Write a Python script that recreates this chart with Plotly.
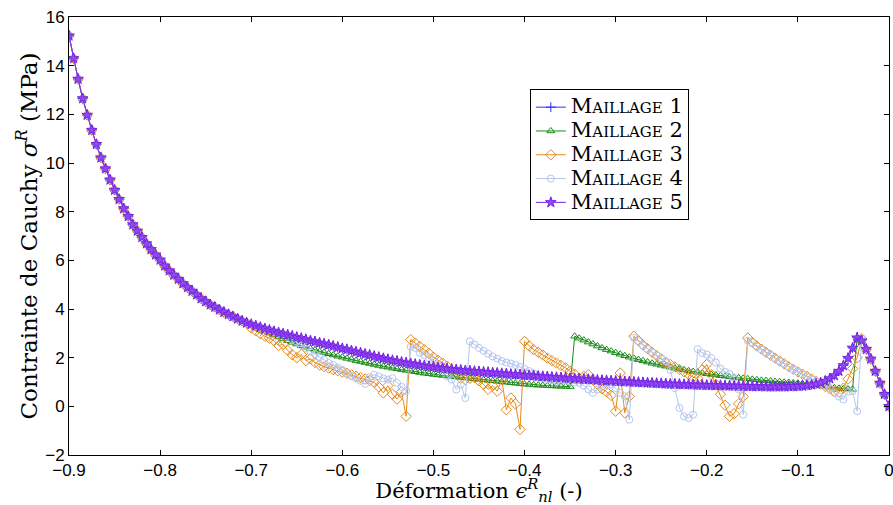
import plotly.graph_objects as go

# Strain values (x): uniform 0.005 steps from -0.9 to 0
DEFORMATION = [
    -0.900, -0.895, -0.890, -0.885, -0.880, -0.875, -0.870, -0.865, -0.860, -0.855,
    -0.850, -0.845, -0.840, -0.835, -0.830, -0.825, -0.820, -0.815, -0.810, -0.805,
    -0.800, -0.795, -0.790, -0.785, -0.780, -0.775, -0.770, -0.765, -0.760, -0.755,
    -0.750, -0.745, -0.740, -0.735, -0.730, -0.725, -0.720, -0.715, -0.710, -0.705,
    -0.700, -0.695, -0.690, -0.685, -0.680, -0.675, -0.670, -0.665, -0.660, -0.655,
    -0.650, -0.645, -0.640, -0.635, -0.630, -0.625, -0.620, -0.615, -0.610, -0.605,
    -0.600, -0.595, -0.590, -0.585, -0.580, -0.575, -0.570, -0.565, -0.560, -0.555,
    -0.550, -0.545, -0.540, -0.535, -0.530, -0.525, -0.520, -0.515, -0.510, -0.505,
    -0.500, -0.495, -0.490, -0.485, -0.480, -0.475, -0.470, -0.465, -0.460, -0.455,
    -0.450, -0.445, -0.440, -0.435, -0.430, -0.425, -0.420, -0.415, -0.410, -0.405,
    -0.400, -0.395, -0.390, -0.385, -0.380, -0.375, -0.370, -0.365, -0.360, -0.355,
    -0.350, -0.345, -0.340, -0.335, -0.330, -0.325, -0.320, -0.315, -0.310, -0.305,
    -0.300, -0.295, -0.290, -0.285, -0.280, -0.275, -0.270, -0.265, -0.260, -0.255,
    -0.250, -0.245, -0.240, -0.235, -0.230, -0.225, -0.220, -0.215, -0.210, -0.205,
    -0.200, -0.195, -0.190, -0.185, -0.180, -0.175, -0.170, -0.165, -0.160, -0.155,
    -0.150, -0.145, -0.140, -0.135, -0.130, -0.125, -0.120, -0.115, -0.110, -0.105,
    -0.100, -0.095, -0.090, -0.085, -0.080, -0.075, -0.070, -0.065, -0.060, -0.055,
    -0.050, -0.045, -0.040, -0.035, -0.030, -0.025, -0.020, -0.015, -0.010, -0.005,
    0.000,
]

# Shared steep branch (x = -0.900 ... -0.705), identical for all meshes
BRANCHE_COMMUNE = [
    15.23, 14.30, 13.45, 12.65, 11.97, 11.35, 10.77, 10.22, 9.77, 9.31,
    8.89, 8.51, 8.13, 7.81, 7.47, 7.21, 6.95, 6.69, 6.45, 6.23,
    6.02, 5.78, 5.58, 5.40, 5.23, 5.05, 4.89, 4.74, 4.59, 4.43,
    4.31, 4.18, 4.08, 3.97, 3.87, 3.78, 3.69, 3.60, 3.51, 3.43,
]

# Maillage 5 (x = -0.700 ... 0)
SUITE_5 = [
    3.37, 3.31, 3.25, 3.19, 3.14, 3.08, 3.03, 2.98, 2.94, 2.89,
    2.84, 2.80, 2.75, 2.70, 2.66, 2.61, 2.57, 2.53, 2.48, 2.43,
    2.38, 2.34, 2.29, 2.24, 2.20, 2.15, 2.11, 2.06, 2.02, 1.97,
    1.93, 1.89, 1.86, 1.82, 1.79, 1.76, 1.73, 1.70, 1.67, 1.64,
    1.62, 1.59, 1.57, 1.55, 1.53, 1.51, 1.49, 1.47, 1.46, 1.44,
    1.43, 1.41, 1.40, 1.38, 1.37, 1.35, 1.34, 1.32, 1.31, 1.30,
    1.28, 1.27, 1.26, 1.24, 1.23, 1.22, 1.20, 1.19, 1.18, 1.17,
    1.15, 1.14, 1.13, 1.12, 1.11, 1.10, 1.08, 1.07, 1.06, 1.05,
    1.04, 1.03, 1.02, 1.01, 1.00, 0.99, 0.98, 0.97, 0.96, 0.95,
    0.94, 0.93, 0.92, 0.92, 0.91, 0.90, 0.90, 0.89, 0.88, 0.88,
    0.87, 0.87, 0.86, 0.86, 0.85, 0.85, 0.84, 0.84, 0.83, 0.83,
    0.82, 0.82, 0.82, 0.81, 0.81, 0.81, 0.81, 0.81, 0.82, 0.82,
    0.83, 0.84, 0.86, 0.89, 0.92, 0.97, 1.04, 1.14, 1.27, 1.45,
    1.68, 1.98, 2.40, 2.82, 2.70, 2.35, 1.95, 1.45, 0.96, 0.50,
    0.00,
]

# Maillage 2 (x = -0.700 ... 0)
SUITE_2 = [
    3.33, 3.25, 3.17, 3.09, 3.01, 2.93, 2.85, 2.77, 2.70, 2.63,
    2.56, 2.49, 2.43, 2.37, 2.31, 2.26, 2.21, 2.16, 2.11, 2.06,
    2.02, 1.97, 1.93, 1.88, 1.84, 1.80, 1.76, 1.72, 1.68, 1.64,
    1.61, 1.57, 1.54, 1.51, 1.48, 1.45, 1.42, 1.39, 1.36, 1.34,
    1.31, 1.29, 1.27, 1.25, 1.23, 1.21, 1.19, 1.17, 1.15, 1.13,
    1.11, 1.09, 1.07, 1.05, 1.03, 1.01, 0.99, 0.97, 0.95, 0.93,
    0.91, 0.90, 0.88, 0.87, 0.86, 0.85, 0.84, 0.83, 0.82, 0.82,
    0.81, 2.88, 2.80, 2.72, 2.64, 2.56, 2.48, 2.40, 2.33, 2.27,
    2.20, 2.14, 2.08, 2.02, 1.97, 1.92, 1.87, 1.82, 1.77, 1.73,
    1.69, 1.65, 1.61, 1.57, 1.53, 1.50, 1.46, 1.43, 1.40, 1.37,
    1.34, 1.31, 1.29, 1.26, 1.24, 1.21, 1.19, 1.17, 1.15, 1.13,
    1.11, 1.09, 1.07, 1.06, 1.04, 1.02, 1.01, 0.99, 0.98, 0.96,
    0.95, 0.93, 0.92, 0.90, 0.88, 0.85, 0.82, 0.79, 0.76, 0.74,
    0.72, 0.71, 0.70, 2.80, 2.68, 2.34, 1.94, 1.44, 0.95, 0.49,
    0.00,
]

# Maillage 3 (x = -0.700 ... 0)
SUITE_3 = [
    3.22, 3.10, 2.98, 2.88, 2.80, 2.70, 2.50, 2.55, 2.30, 2.12,
    2.00, 2.13, 1.88, 1.95, 1.80, 1.70, 1.63, 1.57, 1.51, 1.46,
    1.41, 1.36, 1.30, 1.24, 1.18, 1.12, 1.06, 0.98, 0.80, 0.55,
    0.85, 0.50, 0.30, 0.60, -0.41, 2.74, 2.60, 2.46, 2.33, 2.18,
    2.02, 1.89, 1.78, 1.65, 1.45, 1.30, 1.15, 1.10, 1.15, 1.18,
    1.05, 0.90, 0.70, 0.85, 0.62, 1.10, -0.14, 0.34, 0.10, -0.95,
    2.67, 2.48, 2.33, 2.22, 2.11, 1.98, 1.88, 1.78, 1.68, 1.58,
    1.45, 1.32, 1.16, 1.24, 1.30, 1.10, 0.90, 0.72, 0.60, 0.45,
    -0.20, 1.37, -0.27, 0.41, 2.88, 2.70, 2.52, 2.37, 2.22, 2.08,
    1.95, 1.80, 1.72, 1.62, 1.51, 1.42, 1.32, 1.20, 1.15, 1.50,
    1.72, 1.30, 0.90, 0.50, 0.05, -0.41, -0.30, 0.10, 0.40, 2.81,
    2.63, 2.48, 2.35, 2.22, 2.10, 1.98, 1.86, 1.75, 1.63, 1.52,
    1.42, 1.32, 1.23, 1.12, 1.02, 0.92, 0.82, 0.72, 0.62, 0.58,
    0.75, 1.12, 1.55, 2.00, 2.78, 2.34, 1.94, 1.44, 0.95, 0.49,
    0.00,
]

# Maillage 4 (x = -0.700 ... 0)
SUITE_4 = [
    3.37, 3.31, 3.25, 3.19, 3.14, 3.08, 3.03, 2.98, 2.85, 2.75,
    2.65, 2.50, 2.38, 2.24, 2.14, 2.02, 1.92, 1.78, 1.70, 1.60,
    1.50, 1.36, 1.25, 1.15, 1.05, 0.92, 1.20, 1.30, 1.23, 1.15,
    1.10, 1.16, 0.96, 0.80, 0.62, 2.45, 2.40, 2.20, 2.10, 1.98,
    1.90, 1.70, 1.45, 1.23, 1.10, 0.69, 0.89, 0.34, 2.67, 2.54,
    2.40, 2.28, 2.16, 2.05, 1.96, 1.86, 1.80, 1.76, 1.70, 1.62,
    1.54, 1.45, 1.36, 1.26, 1.16, 1.12, 1.08, 1.03, 1.05, 1.08,
    1.02, 0.98, 0.96, 0.85, 0.70, 0.55, 0.69, 0.80, 0.85, 0.89,
    0.75, 0.55, 0.41, -0.55, 2.81, 2.68, 2.50, 2.36, 2.22, 2.10,
    1.98, 1.85, 1.50, 0.75, -0.07, -0.41, -0.48, -0.34, 2.35, 2.19,
    2.13, 1.99, 1.80, 1.55, 1.42, 1.33, 1.15, 0.70, -0.34, 2.70,
    2.60, 2.45, 2.33, 2.20, 2.09, 1.97, 1.85, 1.74, 1.62, 1.51,
    1.41, 1.31, 1.22, 1.12, 1.02, 0.93, 0.85, 0.75, 0.55, 0.40,
    0.28, 0.60, 0.62, -0.20, 2.80, 2.34, 1.94, 1.44, 0.95, 0.49,
    0.00,
]

MAILLAGE_5 = BRANCHE_COMMUNE + SUITE_5
MAILLAGE_1 = BRANCHE_COMMUNE + SUITE_5  # hidden under Maillage 5 in the picture
MAILLAGE_2 = BRANCHE_COMMUNE + SUITE_2
MAILLAGE_3 = BRANCHE_COMMUNE + SUITE_3
MAILLAGE_4 = BRANCHE_COMMUNE + SUITE_4

NOMS = ["Maillage 1", "Maillage 2", "Maillage 3", "Maillage 4", "Maillage 5"]
X_TICKS = [-0.9, -0.8, -0.7, -0.6, -0.5, -0.4, -0.3, -0.2, -0.1, 0]
X_TICK_LABELS = ["\u22120.9", "\u22120.8", "\u22120.7", "\u22120.6", "\u22120.5",
                 "\u22120.4", "\u22120.3", "\u22120.2", "\u22120.1", "0"]
Y_TICKS = [-2, 0, 2, 4, 6, 8, 10, 12, 14, 16]
Y_TICK_LABELS = ["\u22122", "0", "2", "4", "6", "8", "10", "12", "14", "16"]

for s in (MAILLAGE_1, MAILLAGE_2, MAILLAGE_3, MAILLAGE_4, MAILLAGE_5):
    assert len(s) == len(DEFORMATION), (len(s), len(DEFORMATION))

styles = [
    dict(color="#2f2fff", symbol="cross-thin", size=7, fill="#2f2fff"),
    dict(color="#178c17", symbol="triangle-up-open", size=7, fill="#178c17"),
    dict(color="#e68a1c", symbol="diamond-open", size=8, fill="#e68a1c"),
    dict(color="#b3c6f2", symbol="circle-open", size=7, fill="#b3c6f2"),
    dict(color="#7a22e6", symbol="star", size=8, fill="#8f4af0"),
]
series = [MAILLAGE_1, MAILLAGE_2, MAILLAGE_3, MAILLAGE_4, MAILLAGE_5]

fig = go.Figure()
for nom, ys, st in zip(NOMS, series, styles):
    fig.add_trace(go.Scatter(
        x=DEFORMATION, y=ys, mode="lines+markers",
        name="<span style='font-size:21px'>" + nom + "</span>",
        line=dict(color=st["color"], width=1),
        marker=dict(symbol=st["symbol"], size=st["size"], color=st["fill"],
                    line=dict(color=st["color"], width=1)),
    ))

serif = "DejaVu Serif"
sans = "Liberation Sans"
fig.update_layout(
    width=893, height=505,
    margin=dict(l=69, r=4, t=17, b=50, autoexpand=False),
    paper_bgcolor="white", plot_bgcolor="white",
    showlegend=True,
    legend=dict(
        x=0.562, y=0.835, xanchor="left", yanchor="top",
        bgcolor="white", bordercolor="black", borderwidth=1,
        font=dict(family=serif, size=16, color="black", variant="small-caps"),
        itemwidth=30, tracegroupgap=0,
    ),
    xaxis=dict(
        range=[-0.9, 0], tickvals=X_TICKS, ticktext=X_TICK_LABELS,
        ticks="inside", ticklen=5, tickcolor="black",
        showline=True, linecolor="black", linewidth=1, mirror="ticks",
        showgrid=False, zeroline=False, ticklabeloverflow="allow",
        tickfont=dict(family=sans, size=17, color="black"),
        title=dict(text="Déformation <i>ϵ</i><sup><i>R</i></sup><sub><i>nl</i></sub> (-)",
                   font=dict(family=serif, size=21, color="black"), standoff=5),
    ),
    yaxis=dict(
        range=[-2, 16], tickvals=Y_TICKS, ticktext=Y_TICK_LABELS,
        ticks="inside", ticklen=5, tickcolor="black",
        showline=True, linecolor="black", linewidth=1, mirror="ticks",
        showgrid=False, zeroline=False, ticklabeloverflow="allow",
        tickfont=dict(family=sans, size=17, color="black"),
        title=dict(text="Contrainte de Cauchy <i>σ</i><sup><i>R</i></sup> (MPa)",
                   font=dict(family=serif, size=23, color="black"), standoff=1),
    ),
)

fig.write_html("out.html", config={"displayModeBar": False},
               post_script="document.body.style.margin='0';document.body.style.overflow='hidden';")
